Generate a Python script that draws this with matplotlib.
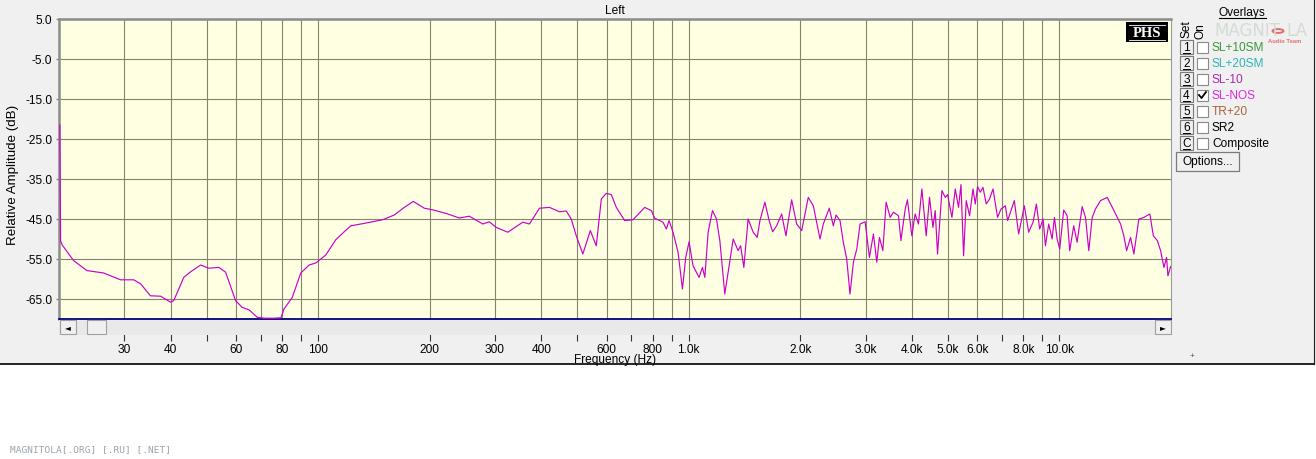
import matplotlib
matplotlib.use("Agg")
import matplotlib.pyplot as plt
from matplotlib.patches import Rectangle, Circle
from matplotlib.lines import Line2D

plt.rcParams['font.family'] = ['Liberation Sans', 'DejaVu Sans']

# ---------------- data ----------------
freq_low = [20.1, 20.15, 20.2, 20.4, 21.9, 23.8, 26.4, 29.3, 31.8, 33.2, 35.3, 37.6, 40.0, 40.8,
            43.4, 45.3, 48.2, 50.7, 54.0, 56.3, 59.9, 62.4, 65.1, 68.6, 71.5, 76.1, 79.4, 80.9,
            85.2, 89.8, 94.6, 98.6, 104.9, 111.6, 117.6]
db_low = [-21.5, -36.0, -50.5, -51.5, -55.4, -57.9, -58.5, -60.2, -60.2, -61.2, -64.2, -64.3, -65.8, -65.4,
          -59.6, -58.2, -56.5, -57.3, -57.1, -58.3, -65.4, -67.1, -67.7, -69.6, -69.8, -69.8, -69.7, -67.5,
          -64.6, -58.5, -56.5, -56.0, -54.0, -50.2, -48.2]

freq_mid = [122.6, 133.1, 149.2, 160.5, 170.8, 180.6, 193.4, 203.7, 221.4, 240.5, 255.9, 278.1, 289.9,
            302.2, 324.9, 356.6, 371.8, 395.6, 421.0, 448.1, 467.2, 481.9, 497.2, 518.0, 542.5, 563.0,
            580.9, 599.2, 618.1, 637.7, 671.5, 707.2, 760.5, 793.0, 809.1, 852.0, 870.3, 884.7, 907.0,
            935.6, 961.6, 981.5]
db_mid = [-46.7, -46.1, -45.2, -44.0, -42.1, -40.6, -42.3, -42.7, -43.6, -44.75, -44.3, -46.25, -45.7,
          -47.1, -48.3, -45.8, -46.25, -42.3, -42.1, -43.2, -43.0, -45.0, -49.2, -53.75, -47.9, -51.7,
          -40.0, -38.6, -38.9, -42.1, -45.4, -45.2, -42.1, -42.9, -44.8, -45.8, -47.5, -45.4, -48.3,
          -53.3, -62.5, -54.6]

freq_1k = [1002, 1027, 1066, 1089, 1105, 1128, 1159, 1188, 1213, 1251, 1277, 1318, 1359, 1380, 1408,
           1446, 1492, 1530, 1556, 1605, 1648, 1684, 1726, 1781, 1829, 1895, 1955, 2017, 2101, 2168,
           2260, 2307, 2394, 2455, 2497, 2559, 2612, 2668, 2723, 2781, 2840, 2899, 2991, 3072, 3149,
           3216, 3269, 3339, 3408, 3494, 3567, 3680, 3736, 3837, 3890]
db_1k = [-50.7, -56.7, -59.6, -57.1, -59.6, -48.3, -42.9, -45.0, -50.4, -63.75, -58.3, -50.0, -52.9, -51.7, -57.1,
         -45.0, -48.3, -49.6, -45.4, -40.8, -45.4, -48.2, -46.7, -43.75, -49.2, -40.2, -46.25, -47.9, -39.6, -41.7,
         -50.0, -46.25, -42.3, -46.7, -44.0, -45.4, -50.8, -55.0, -63.75, -55.8, -52.5, -46.25, -45.7, -54.6, -48.75,
         -55.8, -49.6, -52.9, -40.8, -44.6, -43.3, -44.2, -50.4, -42.5, -40.2]

freq_4k = [3998, 4081, 4166, 4255, 4371, 4462, 4557, 4623, 4690, 4820, 4920, 4991, 5129, 5236, 5344,
           5425, 5514, 5606, 5723, 5846, 5929, 6015, 6116, 6220, 6348, 6480, 6619, 6811, 6957, 7146,
           7249, 7404, 7557, 7762, 7929, 8043, 8261, 8490, 8666, 8847, 9035, 9167, 9357, 9557, 9694,
           9858, 10020]
db_4k = [-49.2, -43.75, -46.25, -37.5, -49.2, -39.6, -47.1, -42.9, -53.75, -37.9, -39.6, -38.9, -44.6, -37.5, -42.1,
         -36.4, -54.2, -40.4, -44.2, -37.5, -41.25, -36.9, -38.3, -37.1, -41.25, -40.0, -37.5, -44.6, -42.5, -41.7,
         -45.4, -42.9, -40.4, -48.75, -44.6, -41.7, -48.3, -45.8, -41.25, -47.5, -45.0, -51.7, -46.25, -50.0, -44.6,
         -50.0, -52.5]

freq_high = [10270, 10490, 10660, 10930, 11160, 11520, 11760, 12000, 12260, 12510, 12910, 13460, 14030,
             14620, 14920, 15180, 15560, 15880, 16380, 16900, 17540, 17920, 18370, 18750, 19140, 19460,
             19620, 19950]
db_high = [-42.75, -44.2, -52.9, -46.7, -50.8, -41.9, -44.6, -52.9, -44.6, -42.5, -40.4, -39.6, -42.9,
           -46.25, -49.2, -52.9, -49.6, -53.75, -45.0, -44.6, -43.75, -49.2, -50.4, -52.9, -57.1, -54.6,
           -59.2, -56.9]

grid_freqs = [30, 40, 50, 60, 70, 80, 90, 100, 200, 300, 400, 500, 600, 700, 800, 900,
              1000, 2000, 3000, 4000, 5000, 6000, 7000, 8000, 9000, 10000]
grid_labels = ['30', '40', '', '60', '', '80', '', '100', '200', '300', '400', '', '600', '', '800', '',
               '1.0k', '2.0k', '3.0k', '4.0k', '5.0k', '6.0k', '', '8.0k', '', '10.0k']
y_ticks = [5, -5, -15, -25, -35, -45, -55, -65]
y_labels = ['5.0', '-5.0', '-15.0', '-25.0', '-35.0', '-45.0', '-55.0', '-65.0']

overlay_sets = ['1', '2', '3', '4', '5', '6', 'C']
overlay_names = ['SL+10SM', 'SL+20SM', 'SL-10', 'SL-NOS', 'TR+20', 'SR2', 'Composite']
overlay_colors = ['#3C963C', '#2EB4B4', '#A828A8', '#E028E0', '#A86438', '#000000', '#000000']
overlay_on = [False, False, False, True, False, False, False]

freq = freq_low + freq_mid + freq_1k + freq_4k + freq_high
level = db_low + db_mid + db_1k + db_4k + db_high

# ---------------- figure ----------------
W, H = 1316, 460
fig = plt.figure(figsize=(W / 100, H / 100), dpi=100)
fig.patch.set_facecolor('white')


def fx(px):
    return px / W


def fy(py):
    return 1 - py / H


# window background
fig.add_artist(Rectangle((0, fy(364)), fx(1313), 364 / H, transform=fig.transFigure,
                         facecolor='#F0F0F0', edgecolor='none', zorder=-10))
fig.add_artist(Line2D([0, fx(1314)], [fy(364.5), fy(364.5)], transform=fig.transFigure,
                      color='black', lw=1.2, zorder=5))
fig.add_artist(Line2D([fx(1313.5), fx(1313.5)], [fy(0), fy(364.5)], transform=fig.transFigure,
                      color='#202020', lw=0.9, zorder=5))

ax = fig.add_axes([fx(59), fy(320), (1171 - 59) / W, 300 / H])
ax.set_facecolor('#FFFFE1')
ax.plot(freq, level, color='#CC00CC', lw=0.85, zorder=3)
ax.set_xscale('log')
ax.set_xlim(20, 20000)
ax.set_ylim(-70, 5)
ax.set_xticks(grid_freqs)
ax.set_xticklabels(grid_labels)
ax.xaxis.set_minor_locator(matplotlib.ticker.NullLocator())
ax.set_yticks(y_ticks)
ax.set_yticklabels(y_labels)
ax.grid(True, color='#85836F', lw=0.8, zorder=1)
ax.set_axisbelow(True)
ax.tick_params(axis='x', direction='out', length=15.5, width=0.8, color='#333333',
               pad=1.5, labelsize=8.6)
ax.tick_params(axis='y', direction='out', length=2.5, width=1.0, color='#8A8A8A',
               pad=2.5, labelsize=8.6)
for s in ['left', 'top']:
    ax.spines[s].set_color('#8C8C8C')
    ax.spines[s].set_linewidth(1.8)
ax.spines['right'].set_color('#9A9A9A')
ax.spines['right'].set_linewidth(0.8)
ax.spines['bottom'].set_color('#000080')
ax.spines['bottom'].set_linewidth(1.3)
ax.set_xlabel('Frequency (Hz)', fontsize=8.6, labelpad=-1)
ax.set_ylabel('Relative Amplitude (dB)', fontsize=9.6)
ax.yaxis.set_label_coords(-(59 - 19) / 1112, (320 - 175) / 300)
ax.set_title('Left', fontsize=8.6, pad=4)

# scrollbar under the plot
fig.add_artist(Rectangle((fx(59), fy(336)), (1171 - 59) / W, 15.5 / H, transform=fig.transFigure,
                         facecolor='#E9E9E9', edgecolor='none', zorder=2))
for x0, x1 in [(60, 76), (87, 106), (1155, 1171)]:
    fig.add_artist(Rectangle((fx(x0), fy(335)), (x1 - x0) / W, 14 / H, transform=fig.transFigure,
                             facecolor='#F0F0F0', edgecolor='#A0A0A0', lw=0.8, zorder=3))
fig.text(fx(68), fy(327.5), '\u25c4', fontsize=5.5, ha='center', va='center',
         family='DejaVu Sans', zorder=4)
fig.text(fx(1163), fy(327.5), '\u25ba', fontsize=5.5, ha='center', va='center',
         family='DejaVu Sans', zorder=4)
fig.text(fx(1192), fy(357), '+', fontsize=6, ha='center', va='center', color='#555555')

# PHS logo
fig.add_artist(Rectangle((fx(1126), fy(43)), 42 / W, 20 / H, transform=fig.transFigure,
                         facecolor='black', edgecolor='none', zorder=6))
fig.text(fx(1147), fy(33.5), 'PHS', fontsize=10.5, fontweight='bold', color='white',
         family='Liberation Serif', ha='center', va='center', zorder=7)
for yy in (25.5, 41):
    fig.add_artist(Line2D([fx(1129), fx(1165)], [fy(yy), fy(yy)], transform=fig.transFigure,
                          color='white', lw=0.6, zorder=7))

# right-hand overlay panel
fig.text(fx(1242), fy(13), 'Overlays', fontsize=8.6, ha='center', va='center')
fig.add_artist(Line2D([fx(1219), fx(1266)], [fy(19), fy(19)], transform=fig.transFigure,
                      color='black', lw=0.8))
fig.text(fx(1187), fy(29), 'Set', fontsize=8.6, rotation=90, ha='center', va='center')
fig.text(fx(1201), fy(31), 'On', fontsize=8.6, rotation=90, ha='center', va='center')
# faint watermark logo
fig.text(fx(1214), fy(31), 'MAGNIT', fontsize=12, color='#D3DBD3', ha='left', va='center',
         family='Liberation Sans Narrow', zorder=1)
fig.add_artist(Circle((fx(1278), fy(32)), 5.5 / W, transform=fig.transFigure, facecolor='none',
                      edgecolor='#E07070', lw=1.4, zorder=1))
fig.text(fx(1286), fy(31), 'LA', fontsize=12, color='#D3DBD3', ha='left', va='center',
         family='Liberation Sans Narrow', zorder=1)
fig.text(fx(1268), fy(41.5), 'Audio Team', fontsize=4.2, color='#E07070', ha='left', va='center',
         fontweight='bold', zorder=1)

for i, (sname, lname, col, on) in enumerate(zip(overlay_sets, overlay_names, overlay_colors, overlay_on)):
    yc = 48 + 16 * i
    fig.add_artist(Rectangle((fx(1180), fy(yc + 7)), 13 / W, 14 / H, transform=fig.transFigure,
                             facecolor='#F0F0F0', edgecolor='#7A7A7A', lw=0.8, zorder=3))
    fig.text(fx(1186.5), fy(yc), sname, fontsize=8.6, ha='center', va='center', zorder=4)
    fig.add_artist(Line2D([fx(1183), fx(1190)], [fy(yc + 6), fy(yc + 6)], transform=fig.transFigure,
                          color='black', lw=0.7, zorder=4))
    fig.add_artist(Rectangle((fx(1197), fy(yc + 6)), 11 / W, 11 / H, transform=fig.transFigure,
                             facecolor='white', edgecolor='#8A8A8A', lw=0.8, zorder=3))
    if on:
        fig.add_artist(Line2D([fx(1199), fx(1201.5), fx(1206)], [fy(yc), fy(yc + 3), fy(yc - 3)],
                              transform=fig.transFigure, color='black', lw=1.3, zorder=4))
    fig.text(fx(1212), fy(yc), lname, fontsize=8.6, color=col, ha='left', va='center', zorder=4)

fig.add_artist(Rectangle((fx(1176), fy(172)), 63 / W, 19 / H, transform=fig.transFigure,
                         facecolor='#F0F0F0', edgecolor='#7A7A7A', lw=0.9, zorder=3))
fig.text(fx(1207.5), fy(162), 'Options...', fontsize=8.6, ha='center', va='center', zorder=4)

# footer text
fig.text(fx(10), fy(450), 'MAGNITOLA[.ORG] [.RU] [.NET]', fontsize=6.8, color='#9AA4AE',
         family='DejaVu Sans Mono', ha='left', va='center')

fig.savefig('out.png', dpi=100, facecolor=fig.get_facecolor())
